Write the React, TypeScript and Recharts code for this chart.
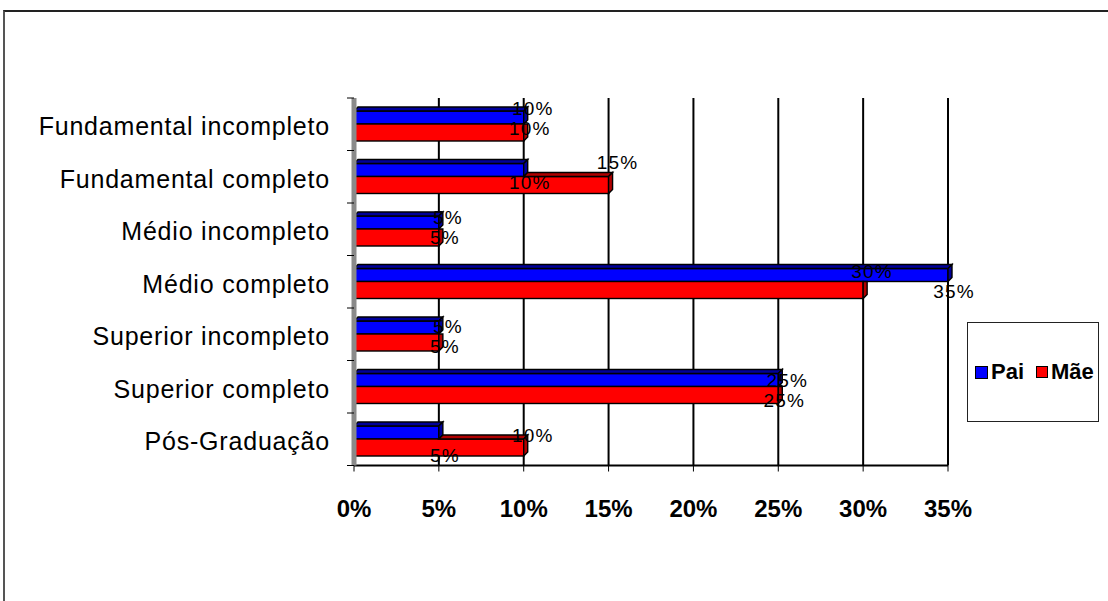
import { BarChart, Bar, XAxis, YAxis, CartesianGrid } from 'recharts';

const categories = [
  'Fundamental incompleto',
  'Fundamental completo',
  'Médio incompleto',
  'Médio completo',
  'Superior incompleto',
  'Superior completo',
  'Pós-Graduação',
];
const paiValues = [10, 10, 5, 35, 5, 25, 5];
const maeValues = [10, 15, 5, 30, 5, 25, 10];
const xTicks = [0, 5, 10, 15, 20, 25, 30, 35];
const seriesNames = ['Pai', 'Mãe'];

const data = categories.map((name, i) => ({ name, pai: paiValues[i], mae: maeValues[i] }));

const W = 1108;
const H = 601;
const margin = { top: 98, right: 160, bottom: 75.5, left: 0 };
const X_AXIS_H = 60;
const Y_AXIS_W = 354;
const BAND_HALF = (H - margin.top - margin.bottom - X_AXIS_H) / categories.length / 2;
const DEPTH = 4;
const FONT = 'Arial, "Liberation Sans", sans-serif';

const BLUE = '#0000ff';
const BLUE_DARK = '#00009a';
const RED = '#ff0000';
const RED_DARK = '#b00000';

// Pai bar: front face with the top face inside its slot
const PaiShape = (props: any) => {
  const x = Number(props.x);
  const y = Number(props.y);
  const w = Number(props.width);
  const h = Number(props.height);
  const d = DEPTH;
  return (
    <g stroke="#000" strokeWidth={1.4}>
      <rect x={x} y={y + d} width={w} height={h - d} fill={BLUE} />
      <polygon points={`${x},${y + d} ${x + d},${y} ${x + w + d},${y} ${x + w},${y + d}`} fill={BLUE_DARK} />
      <polygon points={`${x + w},${y + d} ${x + w + d},${y} ${x + w + d},${y + h - d} ${x + w},${y + h}`} fill={BLUE_DARK} />
    </g>
  );
};

// Mãe bar: top face only shows where it passes the Pai bar
const MaeShape = (props: any) => {
  const x = Number(props.x);
  const y = Number(props.y);
  const w = Number(props.width);
  const h = Number(props.height);
  const d = DEPTH;
  const p = props.payload;
  const pw = p.mae > 0 ? (w * p.pai) / p.mae : 0;
  return (
    <g stroke="#000" strokeWidth={1.4}>
      <rect x={x} y={y} width={w} height={h} fill={RED} />
      {pw < w ? (
        <>
          <polygon points={`${x + pw},${y} ${x + pw + d},${y - d} ${x + w + d},${y - d} ${x + w},${y}`} fill={RED_DARK} />
          <polygon points={`${x + w},${y} ${x + w + d},${y - d} ${x + w + d},${y + h - d} ${x + w},${y + h}`} fill={RED_DARK} />
        </>
      ) : (
        <polygon points={`${x + w},${y} ${x + w + d},${y} ${x + w + d},${y + h - d} ${x + w},${y + h}`} fill={RED_DARK} />
      )}
    </g>
  );
};

// both labels drawn from the last series so they sit over every bar
const renderLabels = (props: any) => {
  const x = Number(props.x);
  const y = Number(props.y);
  const w = Number(props.width);
  const h = Number(props.height);
  const i = Number(props.index);
  const row = data[i];
  const pw = row.mae > 0 ? (w * row.pai) / row.mae : 0;
  const style = { fontFamily: FONT, fontSize: 19, letterSpacing: 1.2, fill: '#000' };
  return (
    <g>
      <text x={x + w + 9} y={y - h + 1 + 2 * i} textAnchor="middle" dominantBaseline="central" {...style}>
        {`${row.mae}%`}
      </text>
      <text x={x + pw + 6} y={y + 4 + 2 * i} textAnchor="middle" dominantBaseline="central" {...style}>
        {`${row.pai}%`}
      </text>
    </g>
  );
};

const CategoryTick = (props: any) => {
  const { x, y, payload, index } = props;
  const ax = Number(x) + 24;
  return (
    <g>
      <line x1={ax - 7} x2={ax} y1={y - BAND_HALF} y2={y - BAND_HALF} stroke="#000" />
      {index === categories.length - 1 && (
        <line x1={ax - 7} x2={ax} y1={y + BAND_HALF} y2={y + BAND_HALF} stroke="#000" />
      )}
      <text
        x={x}
        y={y + 2}
        dy="0.355em"
        textAnchor="end"
        fontFamily={FONT}
        fontSize={25}
        letterSpacing={0.8}
        fill="#000"
      >
        {payload.value}
      </text>
    </g>
  );
};

const LegendBox = () => (
  <div
    style={{
      position: 'absolute',
      left: 967,
      top: 322,
      width: 130,
      height: 98,
      border: '1px solid #222',
      background: '#fff',
      overflow: 'hidden',
      display: 'flex',
      alignItems: 'center',
      fontFamily: FONT,
      fontWeight: 'bold',
      fontSize: 22,
      color: '#000',
      whiteSpace: 'nowrap',
    }}
  >
    <span style={{ display: 'inline-block', width: 11, height: 11, background: BLUE, border: '1px solid #000', marginLeft: 7, marginRight: 3 }} />
    <span>{seriesNames[0]}</span>
    <span style={{ display: 'inline-block', width: 10, height: 10, background: RED, border: '1px solid #000', marginLeft: 12, marginRight: 3 }} />
    <span>{seriesNames[1]}</span>
  </div>
);

export default function App() {
  return (
    <div style={{ position: 'absolute', left: 0, top: 0, width: W, height: H, background: '#fff' }}>
      <div
        style={{
          position: 'absolute',
          left: 3,
          top: 10,
          width: W - 3,
          height: H - 10,
          borderTop: '2px solid #222',
          borderLeft: '2px solid #555',
          boxSizing: 'border-box',
        }}
      />
      <div style={{ position: 'absolute', left: 0, top: 0 }}>
        <BarChart
          width={W}
          height={H}
          data={data}
          layout="vertical"
          margin={margin}
          barCategoryGap={9}
          barGap={0}
        >
          <CartesianGrid horizontal={false} vertical stroke="#000" strokeWidth={2} />
          <XAxis
            type="number"
            domain={[0, 35]}
            ticks={xTicks}
            tickFormatter={(v) => `${v}%`}
            height={X_AXIS_H}
            axisLine={{ stroke: '#000', strokeWidth: 2 }}
            tickLine={{ stroke: '#000' }}
            tickSize={6}
            tickMargin={28}
            tick={{ fill: '#000', fontFamily: FONT, fontSize: 24, fontWeight: 'bold' }}
          />
          <YAxis
            type="category"
            dataKey="name"
            width={Y_AXIS_W}
            axisLine={{ stroke: '#8a8a8a', strokeWidth: 5 }}
            tickLine={false}
            tickSize={6}
            tickMargin={18}
            tick={<CategoryTick />}
            interval={0}
          />
          <Bar dataKey="pai" name={seriesNames[0]} fill={BLUE} shape={<PaiShape />} isAnimationActive={false} />
          <Bar dataKey="mae" name={seriesNames[1]} fill={RED} shape={<MaeShape />} label={renderLabels} isAnimationActive={false} />
        </BarChart>
      </div>
      <LegendBox />
    </div>
  );
}
